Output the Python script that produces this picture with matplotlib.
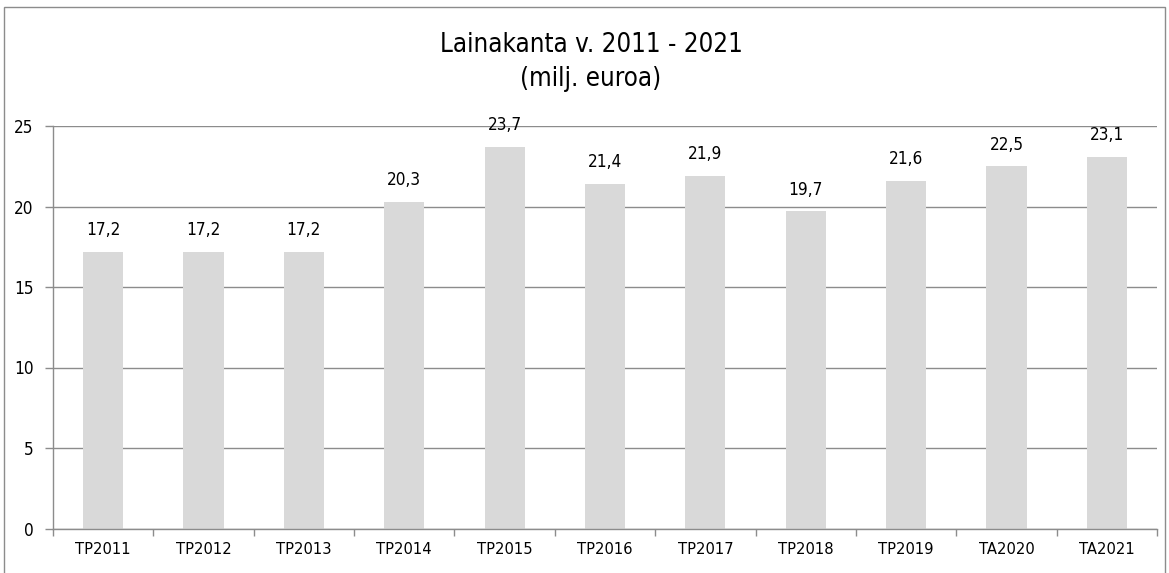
import matplotlib.pyplot as plt
from matplotlib import font_manager
from matplotlib.patches import Rectangle

categories = ['TP2011', 'TP2012', 'TP2013', 'TP2014', 'TP2015', 'TP2016',
              'TP2017', 'TP2018', 'TP2019', 'TA2020', 'TA2021']
values = [17.2, 17.2, 17.2, 20.3, 23.7, 21.4, 21.9, 19.7, 21.6, 22.5, 23.1]
yticks = [0, 5, 10, 15, 20, 25]

# the original font is narrow and tall; use DejaVu Sans Condensed if present
cond = [f for f in font_manager.fontManager.ttflist
        if f.name == 'DejaVu Sans' and f.stretch == 'condensed'
        and f.weight in (400, 'normal') and f.style == 'normal']
if cond:
    plt.rcParams['font.stretch'] = 'condensed'
    scale = 1.12
else:
    scale = 1.0

W, H = 1169, 573
fig = plt.figure(figsize=(W / 100, H / 100), dpi=100)
ax = fig.add_axes([53 / W, 1 - 528.5 / H, (1157 - 53) / W, (528.5 - 126) / H])

grid_col = '#8c8c8c'
x = list(range(len(categories)))
ax.bar(x, values, width=0.4, color='#d9d9d9', zorder=2)

for xi, v in zip(x, values):
    ax.annotate(f'{v:.1f}'.replace('.', ','), (xi, v), xytext=(0, 9),
                textcoords='offset points', ha='center', va='bottom',
                fontsize=11 * scale, color='black')

ax.set_xlim(-0.5, len(categories) - 0.5)
ax.set_ylim(0, 25)
ax.set_yticks(yticks)
ax.set_yticklabels([str(t) for t in yticks], fontsize=11 * scale)
ax.yaxis.grid(True, color=grid_col, linewidth=1, zorder=0)
ax.tick_params(axis='y', length=6, color=grid_col, width=1, pad=8)

# category labels centred, tick marks between categories
ax.set_xticks(x)
ax.set_xticklabels(categories, fontsize=10.5 * scale)
ax.tick_params(axis='x', which='major', length=0, pad=10)
ax.set_xticks([i - 0.5 for i in range(len(categories) + 1)], minor=True)
ax.tick_params(axis='x', which='minor', length=5, color=grid_col, width=1)

for s in ['top', 'right']:
    ax.spines[s].set_visible(False)
for s in ['left', 'bottom']:
    ax.spines[s].set_color(grid_col)
    ax.spines[s].set_linewidth(1)

fig.text(591 / W, 1 - 45 / H, 'Lainakanta v. 2011 - 2021', ha='center',
         va='center', fontsize=16.6 * scale)
fig.text(591 / W, 1 - 79 / H, '(milj. euroa)', ha='center', va='center',
         fontsize=16.6 * scale)

# chart area border
fig.patches.append(Rectangle((4 / W, -0.05), (1165 - 4) / W, 1.05 - 7 / H,
                             transform=fig.transFigure, fill=False,
                             edgecolor='#8c8c8c', linewidth=1))

fig.savefig('out.png', dpi=100)
